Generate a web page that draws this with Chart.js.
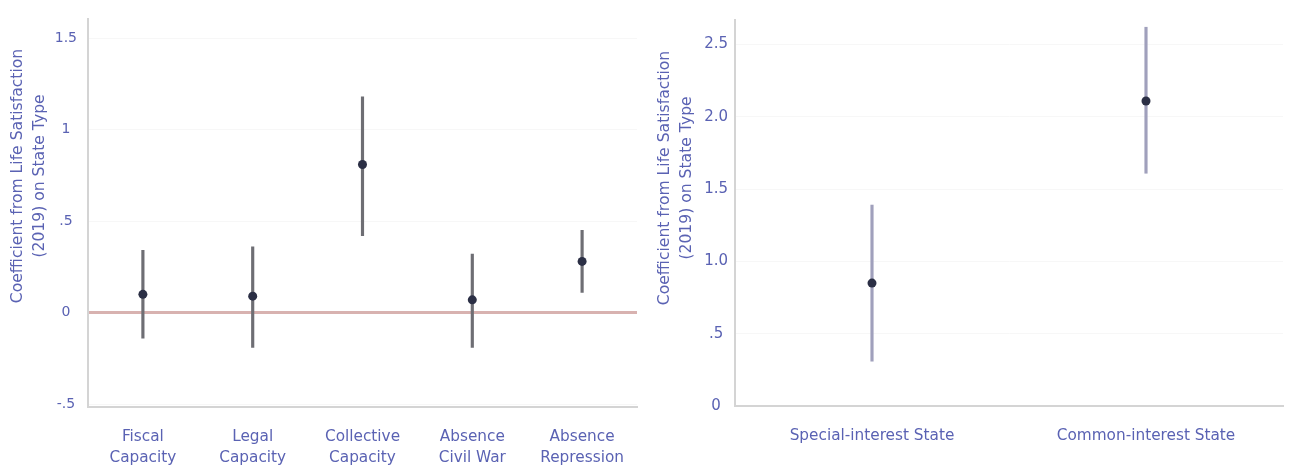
<!DOCTYPE html>
<html>
<head>
<meta charset="utf-8">
<script src="https://cdn.jsdelivr.net/npm/chart.js@4/dist/chart.umd.min.js"></script>
<style>
  html, body { margin: 0; padding: 0; background: #ffffff; }
  #wrap { position: relative; width: 1293px; height: 469px; }
  .panel { position: absolute; top: 0; height: 469px; }
  #left { left: 0; width: 645px; }
  #right { left: 645px; width: 648px; }
</style>
</head>
<body>
<div id="wrap">
  <div class="panel" id="left"><canvas id="cLeft"></canvas></div>
  <div class="panel" id="right"><canvas id="cRight"></canvas></div>
</div>
<script>
// State capacity dimensions: coefficient estimates with confidence intervals
const capacityLabels = [
  ['Fiscal', 'Capacity'],
  ['Legal', 'Capacity'],
  ['Collective', 'Capacity'],
  ['Absence', 'Civil War'],
  ['Absence', 'Repression']
];
const capacityCoef = [0.10, 0.09, 0.81, 0.07, 0.28];
const capacityLow  = [-0.14, -0.19, 0.42, -0.19, 0.11];
const capacityHigh = [0.34, 0.36, 1.18, 0.32, 0.45];
const capacityTickValues = [-0.5, 0, 0.5, 1, 1.5];
const capacityTickText   = ['-.5', '0', '.5', '1', '1.5'];

// State types: coefficient estimates with confidence intervals
const stateLabels = ['Special-interest State', 'Common-interest State'];
const stateCoef = [0.85, 2.11];
const stateLow  = [0.31, 1.61];
const stateHigh = [1.39, 2.62];
const stateTickValues = [0, 0.5, 1, 1.5, 2, 2.5];
const stateTickText   = ['0', '.5', '1.0', '1.5', '2.0', '2.5'];

const axisTitle = ['Coefficient from Life Satisfaction', '(2019) on State Type'];

const FONT = 'DejaVu Sans';
const TEXT = '#5a62b3';
const DOT = '#2b2f45';

Chart.defaults.font.family = FONT;
Chart.defaults.color = TEXT;

// Rotated two-line axis title drawn beside the value axis
function titlePlugin(cx, cy, lineGap) {
  return {
    id: 'sideTitle',
    afterDraw(chart) {
      const ctx = chart.ctx;
      ctx.save();
      ctx.font = '15.6px ' + FONT;
      ctx.fillStyle = TEXT;
      ctx.textAlign = 'center';
      ctx.textBaseline = 'middle';
      axisTitle.forEach((line, i) => {
        ctx.save();
        ctx.translate(cx + i * lineGap, cy);
        ctx.rotate(-Math.PI / 2);
        ctx.fillText(line, 0, 0);
        ctx.restore();
      });
      ctx.restore();
    }
  };
}

function makeChart(canvasId, cfg) {
  const pairs = cfg.low.map((lo, i) => [lo, cfg.high[i]]);
  return new Chart(document.getElementById(canvasId), {
    data: {
      labels: cfg.labels,
      datasets: [
        {
          type: 'line',
          data: cfg.coef,
          showLine: false,
          pointRadius: 4.5,
          pointHoverRadius: 4.5,
          pointBackgroundColor: DOT,
          pointBorderColor: DOT,
          pointBorderWidth: 0,
          order: 0
        },
        {
          type: 'bar',
          data: pairs,
          backgroundColor: cfg.barColor,
          borderWidth: 0,
          barThickness: 2.5,
          grouped: false,
          order: 1
        }
      ]
    },
    options: {
      responsive: true,
      maintainAspectRatio: false,
      animation: false,
      events: [],
      layout: { padding: { left: 0, right: cfg.padRight, top: cfg.padTop, bottom: 0 } },
      plugins: { legend: { display: false }, tooltip: { enabled: false } },
      scales: {
        x: {
          type: 'category',
          offset: true,
          grid: { display: false, drawTicks: false },
          border: { display: true, color: '#d4d4d4', width: 2 },
          ticks: {
            padding: 20,
            maxRotation: 0,
            autoSkip: false,
            font: { size: 15.3, lineHeight: 1.37 },
            color: TEXT
          },
          afterFit(scale) { scale.height = cfg.xHeight; }
        },
        y: {
          min: cfg.min,
          max: cfg.max,
          grid: {
            drawTicks: false,
            color: ctx => (cfg.zeroLine && ctx.tick && ctx.tick.value === 0) ? '#d8b2b0' : '#f7f7f7',
            lineWidth: ctx => (cfg.zeroLine && ctx.tick && ctx.tick.value === 0) ? 3 : 1
          },
          border: { display: true, color: '#d4d4d4', width: 2 },
          afterBuildTicks(scale) {
            scale.ticks = cfg.tickValues.map(v => ({ value: v }));
          },
          ticks: {
            crossAlign: 'center',
            padding: cfg.tickPad,
            font: { size: cfg.tickSize },
            color: TEXT,
            callback(value) {
              const i = cfg.tickValues.indexOf(value);
              return i >= 0 ? cfg.tickText[i] : '';
            }
          },
          afterFit(scale) { scale.width = cfg.yWidth; }
        }
      }
    },
    plugins: [titlePlugin(cfg.titleX, cfg.titleY, 22)]
  });
}

makeChart('cLeft', {
  labels: capacityLabels,
  coef: capacityCoef, low: capacityLow, high: capacityHigh,
  tickValues: capacityTickValues, tickText: capacityTickText,
  min: -0.516, max: 1.603,
  barColor: '#6e6e74',
  zeroLine: true,
  padRight: 8, padTop: 17,
  xHeight: 62, yWidth: 88,
  tickPad: 11, tickSize: 14,
  titleX: 18, titleY: 176
});

makeChart('cRight', {
  labels: stateLabels,
  coef: stateCoef, low: stateLow, high: stateHigh,
  tickValues: stateTickValues, tickText: stateTickText,
  min: 0, max: 2.67,
  barColor: '#a0a0bc',
  zeroLine: false,
  padRight: 10, padTop: 20,
  xHeight: 63, yWidth: 90,
  tickPad: 7, tickSize: 15,
  titleX: 20, titleY: 178
});
</script>
</body>
</html>
